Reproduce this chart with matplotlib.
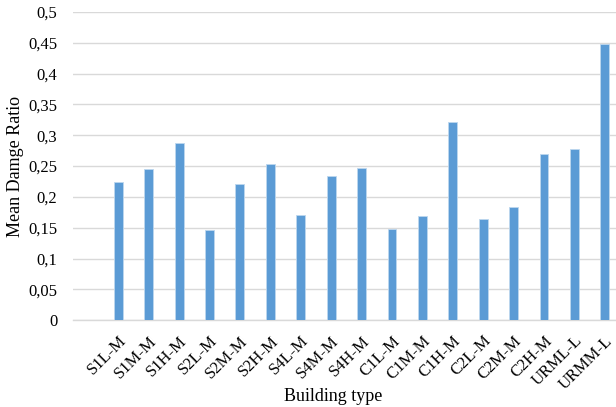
import matplotlib.pyplot as plt
import numpy as np

# building types and mean damage ratio
building_types = ["S1L-M", "S1M-M", "S1H-M", "S2L-M", "S2M-M", "S2H-M",
                  "S4L-M", "S4M-M", "S4H-M", "C1L-M", "C1M-M", "C1H-M",
                  "C2L-M", "C2M-M", "C2H-M", "URML-L", "URMM-L"]
damage_ratio = [0.224, 0.245, 0.288, 0.146, 0.221, 0.254,
                0.171, 0.234, 0.247, 0.148, 0.169, 0.321,
                0.165, 0.183, 0.270, 0.278, 0.448]
y_ticks = [0, 0.05, 0.1, 0.15, 0.2, 0.25, 0.3, 0.35, 0.4, 0.45, 0.5]

plt.rcParams['font.family'] = ['Liberation Serif', 'DejaVu Serif']

fig = plt.figure(figsize=(6.16, 4.07), dpi=100)
ax = fig.add_axes([0.118, 0.213, 0.882, 0.758])

x = np.arange(len(building_types))
ax.bar(x, damage_ratio, width=0.29, color="#5B9BD5",
       edgecolor="#BDD7EE", linewidth=0.6, zorder=3)

ax.set_xlim(-1.5, 16.37)
ax.set_ylim(0, 0.5)
ax.set_yticks(y_ticks)
ax.set_yticklabels([("%g" % v).replace(".", ",") for v in y_ticks], fontsize=12)
ax.set_xticks(x)
ax.set_xticklabels(building_types, rotation=45, ha="right",
                   rotation_mode="anchor", fontsize=12)
ax.tick_params(axis="both", length=0)
ax.tick_params(axis="y", pad=11)
ax.tick_params(axis="x", pad=9)

ax.grid(axis="y", color="#D9D9D9", linewidth=1, zorder=0)
for side in ["top", "right", "left"]:
    ax.spines[side].set_visible(False)
ax.spines["bottom"].set_color("#D9D9D9")
ax.spines["bottom"].set_linewidth(1)

ax.set_ylabel("Mean Damge Ratio", fontsize=13)
ax.yaxis.set_label_coords(-0.09, 0.5)
ax.set_xlabel("Building type", fontsize=13)
ax.xaxis.set_label_coords(0.48, -0.22)

fig.savefig("out.png", dpi=100)
